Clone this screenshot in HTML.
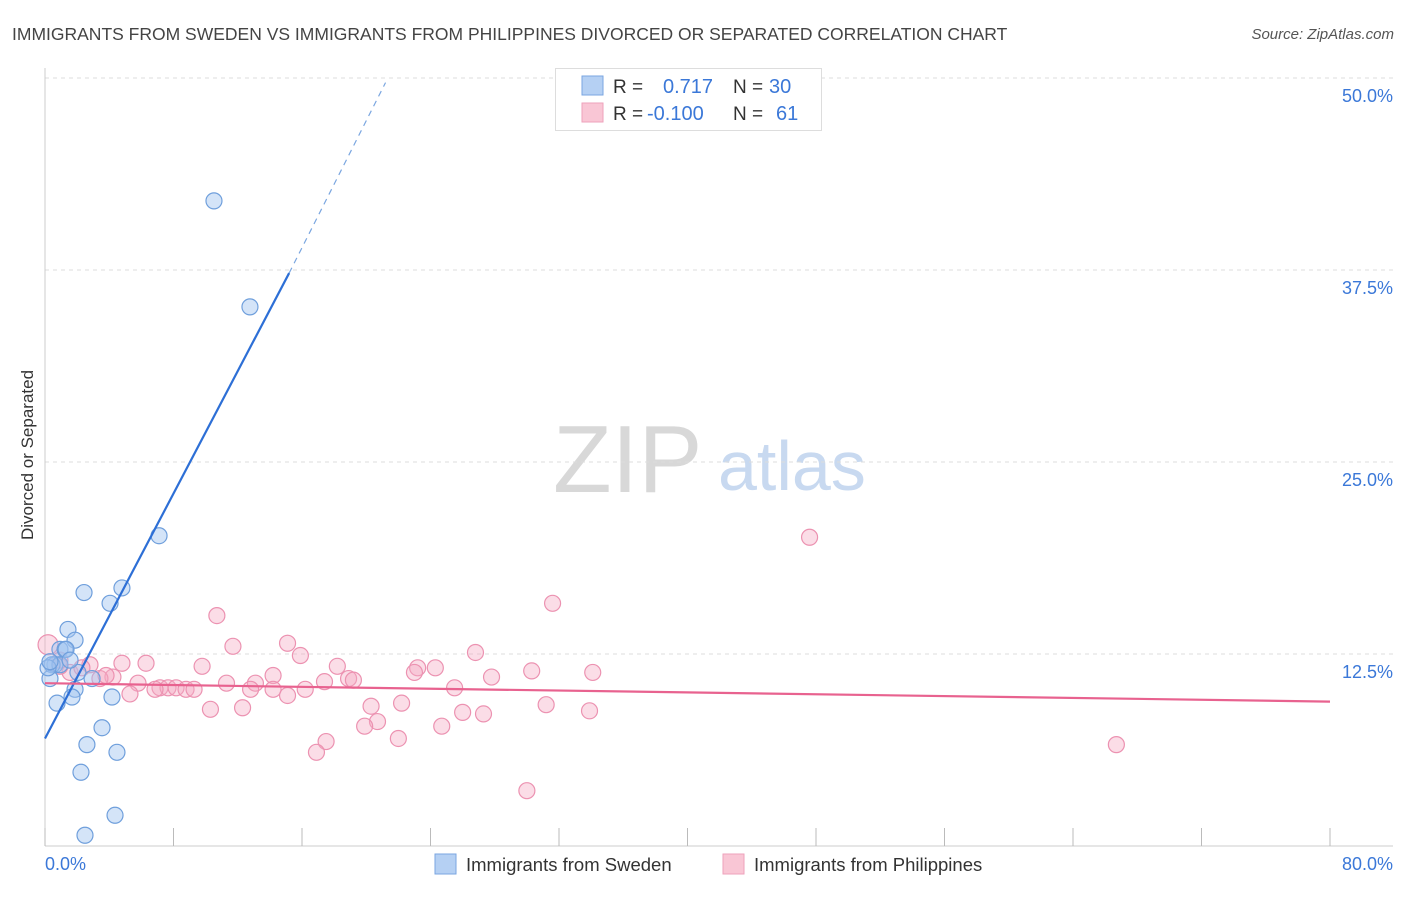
<!DOCTYPE html>
<html><head><meta charset="utf-8"><style>
body{margin:0;background:#fff;font-family:"Liberation Sans",sans-serif;}
svg text{font-family:"Liberation Sans",sans-serif;}
</style></head><body>
<svg id="c" width="1406" height="892">
<text x="12" y="40" font-size="17.5" fill="#444">IMMIGRANTS FROM SWEDEN VS IMMIGRANTS FROM PHILIPPINES DIVORCED OR SEPARATED CORRELATION CHART</text>
<text x="1394" y="39" font-size="15" fill="#555" font-style="italic" text-anchor="end">Source: ZipAtlas.com</text>
<text transform="translate(33,455) rotate(-90)" font-size="17" fill="#333" text-anchor="middle">Divorced or Separated</text>
<text x="553" y="492" font-size="96" fill="#d8d8d8" font-family="Liberation Serif">ZIP</text>
<text x="718" y="490" font-size="70" fill="#c8d9f0">atlas</text>
<g id="grid"></g><g id="marks"></g>
<g>
<rect x="555.5" y="68.5" width="266" height="62" fill="#fff" stroke="#ddd"/>
<rect x="582" y="76" width="21" height="19" fill="#b5d0f3" stroke="#7aa6e0"/>
<rect x="582" y="103" width="21" height="19" fill="#f9c6d5" stroke="#eea2bb"/>
<text x="613" y="93" font-size="19" fill="#333">R =</text><text x="663" y="93" font-size="20" fill="#3b78d8">0.717</text>
<text x="733" y="93" font-size="19" fill="#333">N =</text><text x="769" y="93" font-size="20" fill="#3b78d8">30</text>
<text x="613" y="120" font-size="19" fill="#333">R =</text><text x="647" y="120" font-size="20" fill="#3b78d8">-0.100</text>
<text x="733" y="120" font-size="19" fill="#333">N =</text><text x="776" y="120" font-size="20" fill="#3b78d8">61</text>
</g>
<g>
<rect x="435" y="854" width="21" height="20" fill="#b5d0f3" stroke="#7aa6e0"/>
<text x="466" y="871" font-size="18.5" fill="#333">Immigrants from Sweden</text>
<rect x="723" y="854" width="21" height="20" fill="#f9c6d5" stroke="#eea2bb"/>
<text x="754" y="871" font-size="18.5" fill="#333">Immigrants from Philippines</text>
</g>
<text x="45" y="870" font-size="18" fill="#3b78d8">0.0%</text>
<text x="1393" y="870" font-size="18" fill="#3b78d8" text-anchor="end">80.0%</text>
</svg>
<script>
const yTicks=[12.5,25,37.5,50];
const yTickLabels=["12.5%","25.0%","37.5%","50.0%"];
const xTicks=[0,8,16,24,32,40,48,56,64,72,80];
const swedenX=[10.52,12.76,7.10,4.79,2.43,4.05,1.43,1.87,0.93,1.25,0.62,0.44,0.31,2.05,2.93,1.87,1.68,0.75,4.17,3.55,2.61,4.48,2.24,4.36,2.49,0.93,1.31,0.19,0.31,1.56];
const swedenY=[42.0,35.1,20.2,16.8,16.5,15.8,14.1,13.4,12.8,12.8,11.8,11.8,10.9,11.3,10.9,10.2,9.7,9.3,9.7,7.7,6.6,6.1,4.8,2.0,0.7,11.8,12.8,11.6,12.0,12.1];
const philX=[47.6,31.6,10.7,15.1,11.7,26.8,15.9,4.79,6.29,2.80,9.78,18.2,24.3,23.2,30.3,34.1,23.0,14.2,18.9,19.2,27.8,4.23,3.42,1.56,0.93,5.79,11.3,13.1,17.4,7.16,7.66,8.16,8.78,9.28,6.85,5.29,12.8,14.2,15.1,16.2,25.5,22.2,20.3,31.2,26.0,27.3,33.9,10.3,12.3,20.7,19.9,24.7,22.0,17.5,16.9,66.7,30.0,0.19,0.93,2.30,3.80];
const philY=[20.1,15.8,15.0,13.2,13.0,12.6,12.4,11.9,11.9,11.8,11.7,11.7,11.6,11.6,11.4,11.3,11.3,11.1,10.9,10.8,11.0,11.0,10.9,11.3,11.7,10.6,10.6,10.6,10.7,10.3,10.3,10.3,10.2,10.2,10.2,9.9,10.2,10.2,9.8,10.2,10.3,9.3,9.1,9.2,8.7,8.6,8.8,8.9,9.0,8.1,7.8,7.8,7.0,6.8,6.1,6.6,3.6,13.1,12.1,11.6,11.1];
const swedenTrend=[[0,7.0],[15.2,37.3],[21.2,49.7]];
const philTrend=[[0,10.6],[80,9.4]];
const NS="http://www.w3.org/2000/svg";
const X=v=>45+v/80*1285, Y=v=>846-v/12.5*192;
const grid=document.getElementById('grid'), marks=document.getElementById('marks');
function mk(tag,attrs,parent){const e=document.createElementNS(NS,tag);for(const k in attrs)e.setAttribute(k,attrs[k]);parent.appendChild(e);return e;}
yTicks.forEach((t,i)=>{
 const l=mk('line',{x1:45,x2:1393,y1:Y(t),y2:Y(t),stroke:'#ddd','stroke-dasharray':'4,4'},grid);
 
 
 const tx=mk('text',{x:1393,y:Y(t)+24,'font-size':18,fill:'#3b78d8','text-anchor':'end'},grid);
 tx.textContent=yTickLabels[i];
 
 
});
const ax=mk('line',{x1:45,x2:1393,y1:846,y2:846,stroke:'#ccc'},grid);


const ay=mk('line',{x1:45,x2:45,y1:68,y2:846,stroke:'#ccc'},grid);


xTicks.forEach(t=>{
 const l=mk('line',{x1:X(t),x2:X(t),y1:828,y2:846,stroke:'#bbb'},grid);
 
 
});
philX.forEach((v,i)=>{
 const c=mk('circle',{cx:X(v),cy:Y(philY[i]),r:(i==57?10:8),fill:'rgba(245,170,196,0.4)',stroke:'#ec92b1','stroke-width':1.2},marks);
 
 
});
swedenX.forEach((v,i)=>{
 const c=mk('circle',{cx:X(v),cy:Y(swedenY[i]),r:8,fill:'rgba(160,196,240,0.45)',stroke:'#6f9fdc','stroke-width':1.2},marks);
 
 
});
const s1=mk('line',{x1:X(swedenTrend[0][0]),y1:Y(swedenTrend[0][1]),x2:X(swedenTrend[1][0]),y2:Y(swedenTrend[1][1]),stroke:'#2d6fd6','stroke-width':2.2},marks);


const s2=mk('line',{x1:X(swedenTrend[1][0]),y1:Y(swedenTrend[1][1]),x2:X(swedenTrend[2][0]),y2:Y(swedenTrend[2][1]),stroke:'#7aa6e0','stroke-width':1.2,'stroke-dasharray':'6,5'},marks);


const p1=mk('line',{x1:X(philTrend[0][0]),y1:Y(philTrend[0][1]),x2:X(philTrend[1][0]),y2:Y(philTrend[1][1]),stroke:'#e8628f','stroke-width':2.2},marks);


</script>
</body></html>
